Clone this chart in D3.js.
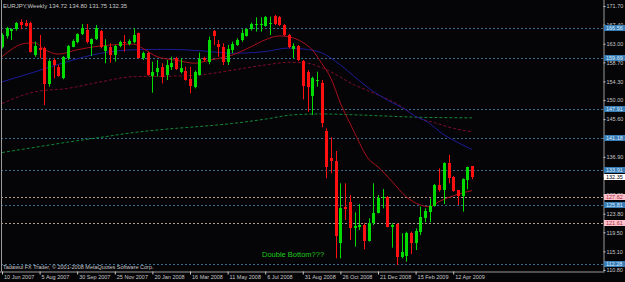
<!DOCTYPE html>
<html>
<head>
<meta charset="utf-8">
<script src="https://cdn.jsdelivr.net/npm/d3@7"></script>
<style>
    html, body { margin: 0; padding: 0; background: #050406; }
    svg { display: block; }
    text { font-family: "Liberation Sans", Arial, sans-serif; }
</style>
</head>
<body>
<div id="chart"></div>
<script>
// Global Variables
const canvasWidth = 625;
const canvasHeight = 282;
const plot = { left: 1, right: 603.5, top: 0, bottom: 271.5 };

// Weekly EURJPY candles, first bar = week of 10 Jun 2007
const opens = [162.32, 164.78, 166.01, 166.32, 168.09, 167.70, 167.86, 160.40, 161.94, 161.94,
    153.71, 159.25, 157.71, 155.02, 159.63, 162.32, 163.40, 165.24, 166.17, 163.01,
    164.01, 165.94, 161.40, 162.32, 160.40, 162.48, 163.47, 162.86, 163.32, 165.40,
    159.63, 160.94, 155.63, 156.48, 157.71, 155.79, 157.71, 159.63, 156.40, 156.71,
    154.79, 153.10, 155.79, 159.78, 158.71, 166.01, 162.86, 162.17, 158.86, 161.55,
    162.71, 163.86, 164.78, 166.47, 167.32, 167.40, 167.09, 167.50, 169.40, 169.09,
    167.32, 165.01, 161.86, 162.48, 159.09, 156.40, 151.02, 154.60, 154.02, 142.87,
    136.71, 135.95, 116.95, 125.26, 126.41, 120.41, 120.64, 121.18, 117.57, 121.57,
    124.03, 127.33, 127.72, 120.80, 121.34, 113.88, 114.11, 119.26, 117.11, 119.64,
    122.87, 124.26, 125.64, 130.41, 129.26, 135.41, 132.33, 129.26, 127.87, 131.56,
    134.72];
const highs = [165.40, 166.90, 166.55, 168.00, 168.63, 168.47, 168.09, 163.47, 165.00, 162.32,
    159.40, 159.63, 158.10, 160.17, 162.71, 164.00, 165.40, 167.55, 167.55, 164.24,
    167.32, 166.17, 164.01, 163.09, 162.71, 163.71, 165.01, 164.01, 166.55, 165.55,
    161.17, 161.17, 158.86, 159.25, 158.48, 159.25, 160.01, 160.01, 159.63, 157.71,
    157.71, 156.79, 160.94, 160.01, 164.63, 166.17, 163.86, 163.09, 162.71, 163.47,
    164.24, 166.32, 166.55, 167.86, 169.09, 169.10, 169.40, 169.24, 169.63, 169.40,
    167.55, 165.24, 163.09, 162.71, 159.25, 156.94, 155.40, 156.55, 154.63, 143.48,
    141.40, 138.25, 130.79, 130.79, 128.10, 124.10, 126.03, 121.57, 122.72, 130.79,
    128.10, 129.49, 127.87, 121.57, 121.57, 119.26, 119.64, 119.64, 120.41, 125.41,
    125.03, 127.33, 130.64, 134.25, 135.64, 137.33, 132.48, 129.26, 131.95, 134.64,
    134.80];
const lows = [161.90, 164.20, 163.86, 166.00, 166.32, 166.94, 160.94, 160.00, 159.63, 148.87,
    153.10, 155.02, 155.40, 154.79, 159.25, 162.17, 163.09, 165.01, 163.09, 160.17,
    163.86, 161.94, 158.48, 158.63, 158.86, 162.17, 161.17, 162.63, 163.09, 159.55,
    159.25, 155.63, 151.71, 155.40, 153.86, 154.63, 156.94, 156.94, 156.17, 154.48,
    151.56, 152.71, 155.63, 158.86, 158.25, 162.71, 160.01, 158.09, 158.09, 160.78,
    162.48, 163.47, 164.63, 166.01, 165.78, 165.80, 166.94, 165.01, 167.32, 167.09,
    164.78, 161.94, 159.63, 159.00, 150.17, 147.33, 146.56, 153.10, 143.71, 131.95,
    133.10, 113.49, 113.49, 122.34, 117.72, 116.18, 120.03, 115.57, 117.34, 121.18,
    123.87, 125.03, 120.64, 115.95, 111.95, 113.49, 112.72, 114.49, 115.41, 118.87,
    121.80, 121.80, 125.41, 128.87, 126.03, 130.79, 128.87, 125.80, 124.26, 129.41,
    131.75];
const closes = [165.01, 166.55, 166.32, 167.86, 167.32, 167.09, 161.17, 162.48, 161.55, 153.71,
    159.09, 158.10, 155.56, 159.86, 162.48, 163.71, 165.17, 166.55, 163.32, 164.09,
    166.55, 162.17, 162.55, 160.40, 162.48, 163.47, 163.09, 163.71, 165.01, 159.63,
    160.78, 155.79, 156.48, 157.32, 155.40, 158.09, 158.63, 157.09, 157.32, 154.63,
    153.25, 156.55, 159.40, 159.25, 163.86, 164.86, 162.32, 158.86, 161.71, 162.86,
    163.86, 165.40, 166.32, 167.55, 167.55, 167.60, 169.09, 167.80, 167.55, 167.32,
    165.01, 162.17, 162.48, 159.25, 153.25, 153.10, 155.17, 154.70, 144.79, 134.64,
    135.95, 118.64, 125.18, 124.80, 120.41, 120.95, 121.18, 117.57, 121.57, 124.03,
    127.49, 127.72, 120.80, 121.18, 113.88, 115.03, 119.41, 117.11, 119.87, 123.10,
    124.49, 125.56, 130.41, 129.26, 135.41, 131.95, 129.10, 127.87, 131.72, 134.48,
    132.35];

// Moving averages: [bar index, price]
const maFast = [[0, 160.0], [5, 163.1], [7, 163.2], [9, 161.7], [12, 160.6], [16, 161.6], [21, 162.5],
    [28, 162.9], [30, 161.9], [33, 160.0], [37, 159.2], [41, 158.5], [43, 158.9], [46, 159.6],
    [49, 160.4], [53, 162.3], [56, 163.9], [59, 164.8], [61, 164.6], [64, 163.3], [66, 161.6],
    [68, 158.5], [70, 155.0], [72, 149.3], [74, 144.7], [75, 142.5], [78, 136.4], [80, 134.6],
    [83, 131.2], [86, 127.7], [89, 125.8], [91, 125.4], [93, 126.6], [96, 127.9], [98, 128.6],
    [100, 129.1]];
const maMid = [[0, 154.2], [7, 156.5], [14, 158.9], [21, 160.8], [28, 161.6], [35, 161.7], [42, 161.4],
    [49, 160.8], [56, 161.2], [61, 162.0], [64, 161.8], [68, 160.9], [72, 158.1], [75, 155.4],
    [79, 152.0], [82, 150.0], [86, 147.7], [88, 146.2], [90, 145.3], [94, 142.0], [97, 140.2],
    [100, 138.6]];
const maSlow = [[0, 149.2], [7, 151.9], [14, 152.7], [21, 154.2], [28, 155.4], [35, 155.5], [42, 155.8],
    [49, 156.9], [56, 158.1], [61, 158.7], [65, 158.5], [68, 157.5], [75, 153.5], [80, 151.2],
    [85, 148.5], [88, 146.2], [92, 144.8], [96, 143.5], [100, 142.7]];
const maLong = [[0, 137.9], [7, 139.1], [14, 140.3], [21, 141.4], [28, 142.5], [35, 143.3], [42, 143.9],
    [49, 144.6], [56, 145.6], [62, 146.6], [68, 146.8], [75, 146.6], [82, 146.3], [90, 146.0],
    [100, 145.9]];

// Horizontal levels and price scale
const levelsBlue = [166.56, 159.69, 147.91, 141.18, 133.91, 125.81, 112.28];
const levelsTan = [127.62, 121.61];
const lastPrice = 132.35;
const priceTicks = [171.70, 167.40, 163.00, 158.70, 154.30, 150.00, 145.60, 141.30, 136.90,
    132.60, 128.20, 123.80, 119.50, 115.10, 110.80];
const dateLabels = ["10 Jun 2007", "5 Aug 2007", "30 Sep 2007", "25 Nov 2007", "20 Jan 2008",
    "16 Mar 2008", "11 May 2008", "6 Jul 2008", "31 Aug 2008", "26 Oct 2008", "21 Dec 2008",
    "15 Feb 2009", "12 Apr 2009"];
const dateBars = [0, 8, 16, 24, 32, 40, 48, 56, 64, 72, 80, 88, 96];

// Scales X - Y
const xScale = d3.scaleLinear().domain([0, 100]).range([2, 472]);
const yScale = d3.scaleLinear().domain([110.8, 171.7]).range([270, 6]);

// Creating SVG
const svg = d3.select("#chart")
    .append("svg")
    .attr("width", canvasWidth)
    .attr("height", canvasHeight);

svg.append("rect").attr("width", canvasWidth).attr("height", canvasHeight).style("fill", "#050406");

svg.append("clipPath").attr("id", "plot-clip")
    .append("rect")
    .attr("x", plot.left + 0.5).attr("y", plot.top)
    .attr("width", plot.right - plot.left - 1).attr("height", plot.bottom - plot.top);

const g = svg.append("g").attr("clip-path", "url(#plot-clip)");

// Horizontal level lines
g.selectAll(".lvl-blue").data(levelsBlue).enter().append("line")
    .attr("x1", plot.left).attr("x2", plot.right)
    .attr("y1", (d) => Math.round(yScale(d)) + 0.5).attr("y2", (d) => Math.round(yScale(d)) + 0.5)
    .style("stroke", "#3a6c92").style("stroke-dasharray", "2,2");
g.selectAll(".lvl-tan").data(levelsTan).enter().append("line")
    .attr("x1", plot.left).attr("x2", plot.right)
    .attr("y1", (d) => Math.round(yScale(d)) + 0.5).attr("y2", (d) => Math.round(yScale(d)) + 0.5)
    .style("stroke", "#b49a88").style("stroke-dasharray", "2,2");

// Moving averages
const maLine = d3.line().x((d) => xScale(d[0])).y((d) => yScale(d[1])).curve(d3.curveMonotoneX);
g.append("path").datum(maLong).attr("d", maLine)
    .style("fill", "none").style("stroke", "#11883a").style("stroke-dasharray", "3,2");
g.append("path").datum(maSlow).attr("d", maLine)
    .style("fill", "none").style("stroke", "#7c0c2c").style("stroke-dasharray", "3,2");
g.append("path").datum(maMid).attr("d", maLine)
    .style("fill", "none").style("stroke", "#1c1c96");
g.append("path").datum(maFast).attr("d", maLine)
    .style("fill", "none").style("stroke", "#a80f1c");

// Candles
const bars = d3.range(opens.length);
const colorOf = (i) => (closes[i] >= opens[i] ? "#00dc00" : "#ff1010");
g.selectAll(".wick").data(bars).enter().append("line")
    .attr("x1", (i) => Math.round(xScale(i)) + 0.5).attr("x2", (i) => Math.round(xScale(i)) + 0.5)
    .attr("y1", (i) => yScale(highs[i])).attr("y2", (i) => yScale(lows[i]))
    .style("stroke", colorOf);
g.selectAll(".body").data(bars).enter().append("rect")
    .attr("x", (i) => Math.round(xScale(i)) - 1)
    .attr("width", 3)
    .attr("y", (i) => yScale(Math.max(opens[i], closes[i])))
    .attr("height", (i) => Math.max(1, Math.abs(yScale(opens[i]) - yScale(closes[i]))))
    .style("fill", colorOf)
    .style("shape-rendering", "crispEdges");

// Frame
svg.append("line").attr("x1", plot.left + 0.5).attr("x2", plot.left + 0.5)
    .attr("y1", 0).attr("y2", plot.bottom).style("stroke", "#9a9a9a");

// Price axis (right)
const yAxis = d3.axisRight(yScale).tickValues(priceTicks).tickSize(2).tickPadding(1)
    .tickFormat(d3.format(".2f"));
const ya = svg.append("g").attr("transform", `translate(${plot.right}, 0)`).call(yAxis);
ya.select(".domain").attr("d", `M0.5,0V${plot.bottom}`).style("stroke", "#9a9a9a");
ya.selectAll(".tick line").style("stroke", "#c8c8c8");
ya.selectAll(".tick text").style("fill", "#c8c8c8").style("font-size", "5.5px")
    .style("font-family", '"Liberation Sans", Arial, sans-serif');

// Price labels of the level lines
const boxes = levelsBlue.map((v) => ({ v, fill: "#3a7cb4", text: "#d8ecff" }))
    .concat(levelsTan.map((v) => ({ v, fill: "#ffc0cc", text: "#a03040" })))
    .concat([{ v: lastPrice, fill: "#ffffff", text: "#000000" }]);
const box = svg.append("g").selectAll("g").data(boxes).enter().append("g")
    .attr("transform", (d) => `translate(${plot.right + 0.5}, ${Math.round(yScale(d.v))})`);
box.append("rect").attr("x", 0).attr("y", -3).attr("width", 21).attr("height", 6)
    .style("fill", (d) => d.fill);
box.append("text").attr("x", 2).attr("y", 2).text((d) => d.v.toFixed(2))
    .style("fill", (d) => d.text).style("font-size", "5.5px");

// Date axis (bottom)
const xAxis = d3.axisBottom(xScale).tickValues(dateBars).tickSize(3).tickPadding(1)
    .tickFormat((d, i) => dateLabels[i]);
const xa = svg.append("g").attr("transform", `translate(0, ${plot.bottom})`).call(xAxis);
xa.select(".domain").attr("d", `M0,0.5H${plot.right + 1}`).style("stroke", "#9a9a9a");
xa.selectAll(".tick line").style("stroke", "#c8c8c8");
xa.selectAll(".tick text").attr("text-anchor", "start").attr("x", 1.5)
    .style("fill", "#c8c8c8").style("font-size", "5.5px")
    .style("font-family", '"Liberation Sans", Arial, sans-serif');

// Texts
svg.append("text").attr("x", 3).attr("y", 8)
    .text("EURJPY,Weekly  134.72 134.80 131.75 132.35")
    .style("fill", "#c8c8c8").style("font-size", "6px");
svg.append("text").attr("x", 3).attr("y", 269)
    .text("Tadawul FX Trader, © 2001-2008 MetaQuotes Software Corp.")
    .style("fill", "#c8c8c8").style("font-size", "5.5px");
svg.append("text").attr("x", 262).attr("y", 257)
    .text("Double Bottom???")
    .style("fill", "#1fc81f").style("font-size", "7.5px");
</script>
</body>
</html>
